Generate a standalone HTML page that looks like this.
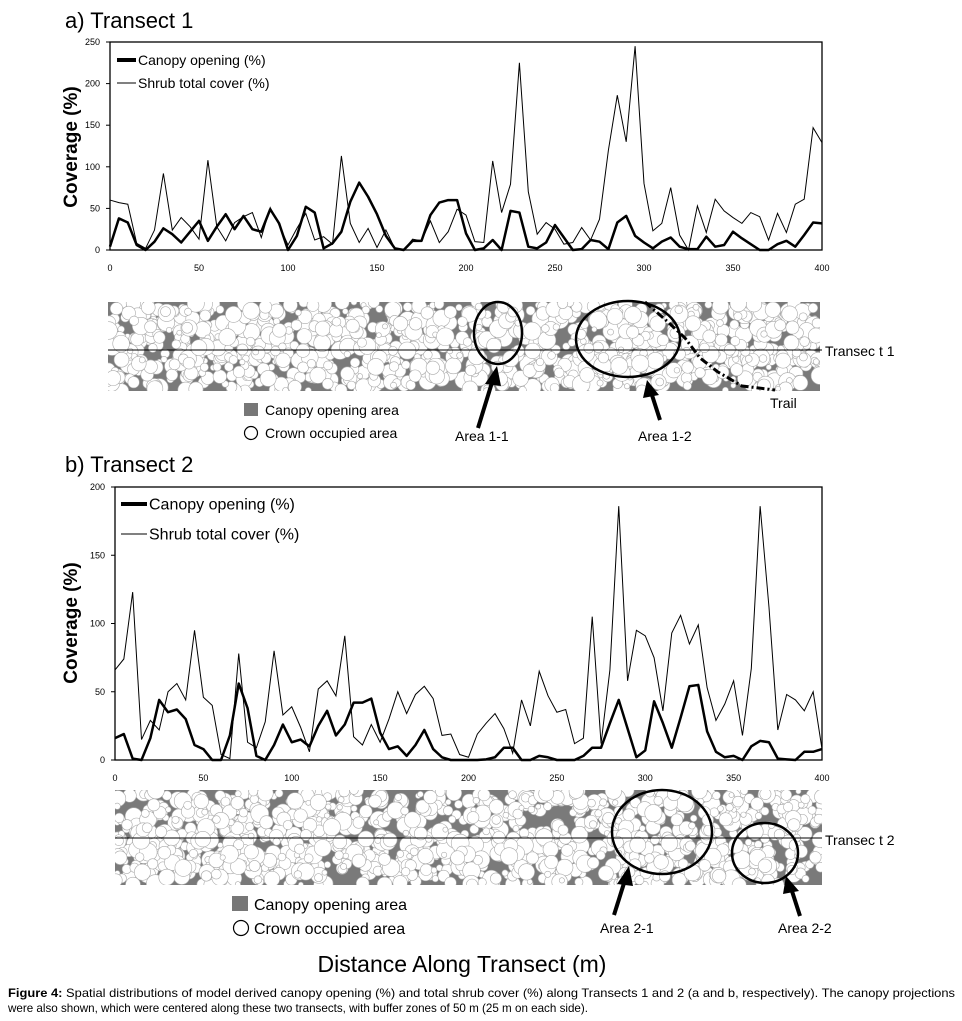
<!DOCTYPE html>
<html><head><meta charset="utf-8"><style>
html,body{margin:0;padding:0;background:#fff;}
svg{display:block;font-family:"Liberation Sans",sans-serif;}
</style></head><body>
<svg id="fig" width="962" height="1021" viewBox="0 0 962 1021" xmlns="http://www.w3.org/2000/svg">
<text x="65" y="28" font-size="22">a) Transect 1</text>
<text transform="translate(77,147) rotate(-90)" text-anchor="middle" font-size="19" font-weight="bold">Coverage (%)</text>
<g id="chartA"></g>
<text x="65" y="472" font-size="22">b) Transect 2</text>
<text transform="translate(77,623) rotate(-90)" text-anchor="middle" font-size="19" font-weight="bold">Coverage (%)</text>
<g id="chartB"></g>
<g id="mapA"></g>
<g id="mapB"></g>
<g fill="none" stroke="#000">
<line x1="108" y1="350" x2="822" y2="350" stroke-width="1"/>
<ellipse cx="498" cy="333" rx="24" ry="31" stroke-width="2.5"/>
<ellipse cx="628" cy="339" rx="52" ry="38" stroke-width="2.5"/>
<polyline points="645,302 668,322 685,338 700,358 718,372 742,386 775,390" stroke-width="3" stroke-dasharray="8,3,2,3"/>
<line x1="478" y1="428" x2="494" y2="376" stroke-width="4"/>
<polygon points="497,366 485,384 501,386" fill="#000" stroke="none"/>
<line x1="660" y1="420" x2="651" y2="392" stroke-width="4"/>
<polygon points="647,380 643,398 659,395" fill="#000" stroke="none"/>
</g>
<text x="825" y="356" font-size="14">Transec t 1</text>
<text x="770" y="408" font-size="14">Trail</text>
<text x="455" y="441" font-size="14">Area 1-1</text>
<text x="638" y="441" font-size="14">Area 1-2</text>
<rect x="244" y="403" width="14" height="13" fill="#777"/>
<text x="265" y="415" font-size="14">Canopy opening area</text>
<circle cx="251" cy="433" r="6.5" fill="none" stroke="#000" stroke-width="1.2"/>
<text x="265" y="438" font-size="14">Crown occupied area</text>
<g fill="none" stroke="#000">
<line x1="115" y1="838" x2="822" y2="838" stroke-width="1"/>
<ellipse cx="662" cy="832" rx="50" ry="42" stroke-width="2.5"/>
<ellipse cx="765" cy="853" rx="33" ry="30" stroke-width="2.5"/>
<line x1="614" y1="915" x2="625" y2="880" stroke-width="4"/>
<polygon points="629,866 617,884 633,886" fill="#000" stroke="none"/>
<line x1="800" y1="916" x2="791" y2="888" stroke-width="4"/>
<polygon points="786,876 783,894 799,891" fill="#000" stroke="none"/>
</g>
<text x="825" y="845" font-size="14">Transec t 2</text>
<text x="600" y="933" font-size="14">Area 2-1</text>
<text x="778" y="933" font-size="14">Area 2-2</text>
<rect x="232" y="896" width="16" height="15" fill="#777"/>
<text x="254" y="910" font-size="16">Canopy opening area</text>
<circle cx="241" cy="928" r="7.5" fill="none" stroke="#000" stroke-width="1.2"/>
<text x="254" y="934" font-size="16">Crown occupied area</text>
<text x="462" y="972" text-anchor="middle" font-size="23">Distance Along Transect (m)</text>
<text x="8" y="997" font-size="12" textLength="947" lengthAdjust="spacingAndGlyphs"><tspan font-weight="bold">Figure 4:</tspan> Spatial distributions of model derived canopy opening (%) and total shrub cover (%) along Transects 1 and 2 (a and b, respectively).  The canopy projections</text>
<text x="8" y="1012" font-size="12" textLength="580" lengthAdjust="spacingAndGlyphs">were also shown, which were centered along these two transects, with buffer zones of 50 m (25 m on each side).</text>
</svg>
<script>
const distances = [];
for (let d = 0; d <= 400; d += 5) distances.push(d);
const canopyA = [4,38,33,6,0,10,26,19,9,22,35,11,28,43,25,41,25,22,49,32,0,17,52,45,2,8,22,58,81,64,43,17,2,0,11,11,42,57,60,60,20,0,2,12,0,47,45,4,2,9,30,15,0,1,12,10,1,33,41,17,9,2,10,15,4,1,1,16,4,6,22,14,7,0,0,7,11,4,18,33,32];
const shrubA = [60,57,55,8,2,24,92,24,39,28,13,108,28,11,33,40,45,15,51,30,6,26,44,12,16,7,113,32,9,26,3,24,2,0,13,11,35,9,22,49,42,10,9,107,45,79,225,70,19,33,25,7,9,27,12,37,120,186,130,245,80,23,32,75,18,0,53,21,61,47,39,32,45,40,12,44,21,55,61,147,129];
const canopyB = [16,19,1,0,16,44,35,37,30,11,8,0,0,18,56,38,3,0,11,26,13,15,10,25,36,18,26,42,42,45,20,8,10,3,11,22,8,2,0,0,0,0,0.5,2,9,9,0,0,3,2,0,0,0,3,9,9,27,44,23,2,7,43,27,9,31,54,55,21,6,2,3,0,10,14,13,1,0.5,0,6,6,8];
const shrubB = [66,74,123,15,29,22,50,56,44,95,46,40,4,1,78,13,9,28,80,33,39,24,6,52,58,47,91,17,11,26,13,30,50,34,48,54,45,18,19,4,2,19,27,34,23,5,44,25,65,47,35,37,12,16,105,12,66,186,58,95,91,75,36,93,106,85,99,53,29,41,58,18,67,186,112,22,48,44,36,50,8];
const xTicks = [0,50,100,150,200,250,300,350,400];
const yTicksA = [0,50,100,150,200,250];
const yTicksB = [0,50,100,150,200];
const NS = 'http://www.w3.org/2000/svg';
function mk(tag, attrs, parent){const e=document.createElementNS(NS,tag);for(const k in attrs)e.setAttribute(k,attrs[k]);parent.appendChild(e);return e;}
function drawChart(g, box, yMax, yTicks, canopy, shrub, leg){
  const xs = v => box.x0 + (v/400)*(box.x1-box.x0);
  const ys = v => box.y1 - (v/yMax)*(box.y1-box.y0);
  const frame = mk('rect',{x:box.x0,y:box.y0,width:box.x1-box.x0,height:box.y1-box.y0,fill:'none',stroke:'#000','stroke-width':1.3},g);
  
  
  yTicks.forEach(t=>{
    const l=mk('line',{x1:box.x0-4,x2:box.x0,y1:ys(t),y2:ys(t),stroke:'#000'},g);
    
    
    const tx=mk('text',{x:box.x0-10,y:ys(t)+3,'font-size':9,'text-anchor':'end'},g);
    
    
    tx.textContent=t;
  });
  xTicks.forEach(t=>{
    const tx=mk('text',{x:xs(t),y:box.y1+21,'font-size':9,'text-anchor':'middle'},g);
    
    
    tx.textContent=t;
  });
  const pS=mk('polyline',{points:shrub.map((v,i)=>xs(distances[i])+','+ys(v)).join(' '),fill:'none',stroke:'#000','stroke-width':1},g);
  
  
  const pC=mk('polyline',{points:canopy.map((v,i)=>xs(distances[i])+','+ys(v)).join(' '),fill:'none',stroke:'#000','stroke-width':2.5,'stroke-linejoin':'round'},g);
  
  
  const l1=mk('line',{x1:leg.x,x2:leg.x+leg.w,y1:leg.y1,y2:leg.y1,stroke:'#000','stroke-width':4},g);
  
  
  const t1=mk('text',{x:leg.x+leg.w+2,y:leg.y1+leg.fs*0.35,'font-size':leg.fs},g);
  
  
  t1.textContent='Canopy opening (%)';
  const l2=mk('line',{x1:leg.x,x2:leg.x+leg.w,y1:leg.y2,y2:leg.y2,stroke:'#000','stroke-width':1},g);
  
  
  const t2=mk('text',{x:leg.x+leg.w+2,y:leg.y2+leg.fs*0.35,'font-size':leg.fs},g);
  
  
  t2.textContent='Shrub total cover (%)';
}
drawChart(document.getElementById('chartA'),{x0:110,x1:822,y0:42,y1:250},250,yTicksA,canopyA,shrubA,{x:117,w:19,y1:60,y2:83,fs:14});
drawChart(document.getElementById('chartB'),{x0:115,x1:822,y0:487,y1:760},200,yTicksB,canopyB,shrubB,{x:121,w:26,y1:504,y2:534,fs:16});
// decorative canopy texture (deterministic)
function drawMap(g, x0, y0, w, h, seed){
  const cp=mk('clipPath',{id:'clip'+seed},g);
  mk('rect',{x:x0,y:y0,width:w,height:h},cp);
  const bg=mk('rect',{x:x0,y:y0,width:w,height:h,fill:'#7a7a7a'},g);
  
  
  const cg=mk('g',{'clip-path':'url(#clip'+seed+')'},g);
  
  
  let s=seed;
  const rnd=()=>{s=(s*1103515245+12345)%2147483648;return s/2147483648;};
  const n=Math.round(w*h/55);
  for(let i=0;i<n;i++){
    const r=2.5+rnd()*6.5;
    mk('circle',{cx:x0+rnd()*w,cy:y0+rnd()*h,r:r,fill:'#fff',stroke:'#aaa','stroke-width':0.6},cg);
  }
}
drawMap(document.getElementById('mapA'),108,302,712,89,7);
drawMap(document.getElementById('mapB'),115,790,707,95,13);
</script>
</body></html>
